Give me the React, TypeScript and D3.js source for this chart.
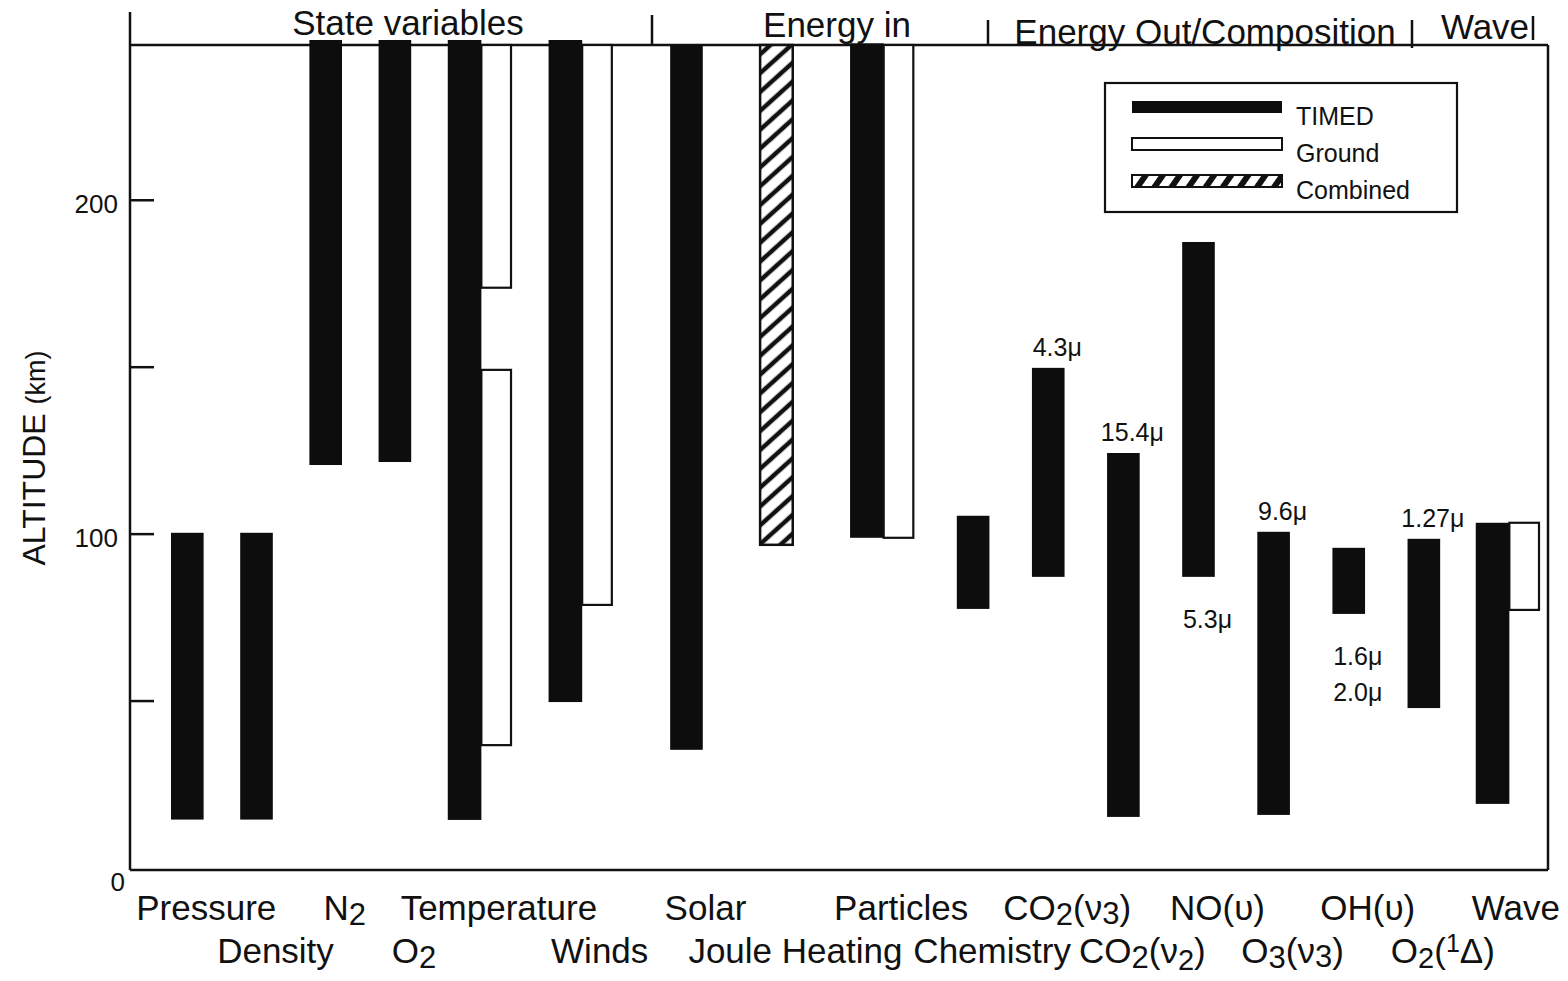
import React from "react";
import * as d3 from "d3";

// ---------------- DATA ----------------
const categories = [
  "Pressure", "Density", "N2", "O2", "Temperature", "Winds",
  "Solar", "Joule Heating", "Particles",
  "Chemistry", "CO2(v3)", "CO2(v2)", "NO(v)", "O3(v3)", "OH(v)", "O2(1D)",
  "Wave",
];

const sections = ["State variables", "Energy in", "Energy Out/Composition", "Wave"];
// which section each category belongs to (index into sections)
const categorySection = [0, 0, 0, 0, 0, 0, 1, 1, 1, 2, 2, 2, 2, 2, 2, 2, 3];

// altitude ranges in km: [category, low, high]
const timedBars: [string, number, number][] = [
  ["Pressure", 14.5, 100.4],
  ["Density", 14.5, 100.4],
  ["N2", 120.7, 248],
  ["O2", 121.6, 248],
  ["Temperature", 14.4, 248],
  ["Winds", 49.7, 248],
  ["Solar", 35.4, 246.5],
  ["Particles", 98.9, 247],
  ["Chemistry", 77.6, 105.5],
  ["CO2(v3)", 87.2, 149.8],
  ["CO2(v2)", 15.3, 124.3],
  ["NO(v)", 87.2, 187.5],
  ["O3(v3)", 15.9, 100.7],
  ["OH(v)", 76.1, 95.9],
  ["O2(1D)", 47.9, 98.6],
  ["Wave", 19.2, 103.4],
];
const groundBars: [string, number, number][] = [
  ["Temperature", 173.8, 246.5],
  ["Temperature", 36.8, 149.2],
  ["Winds", 78.8, 246.5],
  ["Particles", 98.9, 246.5],
  ["Wave", 77.3, 103.4],
];
const combinedBars: [string, number, number][] = [
  ["Joule Heating", 96.8, 246.5],
];

// wavelength annotations: [category, lines, placement]
const wavelengthLabels: [string, string[], "above" | "below"][] = [
  ["CO2(v3)", ["4.3μ"], "above"],
  ["CO2(v2)", ["15.4μ"], "above"],
  ["NO(v)", ["5.3μ"], "below"],
  ["O3(v3)", ["9.6μ"], "above"],
  ["OH(v)", ["1.6μ", "2.0μ"], "below"],
  ["O2(1D)", ["1.27μ"], "above"],
];

const yTicks = [50, 100, 150, 200];
const yTickLabels = [0, 100, 200];
const legendItems = ["TIMED", "Ground", "Combined"];

// rich labels for categories: [text, shift(px down), size]
type Part = [string, number?, number?];
const labelParts: Record<string, Part[]> = {
  "Pressure": [["Pressure"]],
  "Density": [["Density"]],
  "N2": [["N"], ["2", 5, 31]],
  "O2": [["O"], ["2", 5, 31]],
  "Temperature": [["Temperature"]],
  "Winds": [["Winds"]],
  "Solar": [["Solar"]],
  "Joule Heating": [["Joule Heating"]],
  "Particles": [["Particles"]],
  "Chemistry": [["Chemistry"]],
  "CO2(v3)": [["CO"], ["2", 5, 31], ["(ν"], ["3", 4, 31], [")"]],
  "CO2(v2)": [["CO"], ["2", 5, 31], ["(ν"], ["2", 7, 29], [")"]],
  "NO(v)": [["NO(υ)"]],
  "O3(v3)": [["O"], ["3", 5, 31], ["(ν"], ["3", 4, 31], [")"]],
  "OH(v)": [["OH(υ)"]],
  "O2(1D)": [["O"], ["2", 5, 29], ["("], ["1", -11, 25], ["Δ)"]],
  "Wave": [["Wave"]],
};

// ---------------- LAYOUT ----------------
const W = 1568;
const H = 981;
const FONT = "'Liberation Sans', Arial, Helvetica, sans-serif";
const plot = { left: 130, right: 1548, top: 45, bottom: 868 };
const sectionGap = [37, 58, 43, 36]; // layout units between bars per section
const singleW = 33;
const pairTimedW = 34;
const pairGroundW = 31;

export default function App() {
  const slotsOf = (c: string) => {
    const s: string[] = [];
    if (timedBars.some((b) => b[0] === c)) s.push("timed");
    if (combinedBars.some((b) => b[0] === c)) s.push("combined");
    if (groundBars.some((b) => b[0] === c)) s.push("ground");
    return s;
  };
  const starts: Record<string, number> = {};
  const widths: Record<string, number> = {};
  const slotList: Record<string, string[]> = {};
  let pos = 0;
  categories.forEach((c, i) => {
    slotList[c] = slotsOf(c);
    if (i > 0) pos += sectionGap[categorySection[i]];
    starts[c] = pos;
    widths[c] = slotList[c].length === 1 ? singleW : pairTimedW + pairGroundW;
    pos += widths[c];
  });
  const x = d3.scaleLinear().domain([0, pos]).range([171, 1540]);
  const y = d3.scaleLinear().domain([0, 246.5]).range([plot.bottom, plot.top]);

  const barRect = (c: string, kind: string) => {
    const slots = slotList[c];
    const s = starts[c];
    if (slots.length === 1) return { x0: x(s), x1: x(s + singleW) };
    if (slots.indexOf(kind) === 0) return { x0: x(s), x1: x(s + pairTimedW) };
    return { x0: x(s + pairTimedW), x1: x(s + pairTimedW + pairGroundW) };
  };
  const groupCenter = (c: string) => x(starts[c] + widths[c] / 2);
  const timedCenter = (c: string) => {
    const r = barRect(c, slotList[c][0]);
    return (r.x0 + r.x1) / 2;
  };

  const renderParts = (parts: Part[]) => {
    let prev = 0;
    return parts.map((p, i) => {
      const shift = p[1] ?? 0;
      const dy = shift - prev;
      prev = shift;
      return (
        <tspan key={i} dy={dy} fontSize={p[2] ?? 35}>
          {p[0]}
        </tspan>
      );
    });
  };

  const stroke = "#111";

  return (
    <svg
      width={W}
      height={H}
      viewBox={`0 0 ${W} ${H}`}
      style={{ position: "absolute", left: 0, top: 0, background: "#fff", display: "block" }}
      fontFamily={FONT}
    >
      <defs>
        <pattern id="hatch" patternUnits="userSpaceOnUse" width={14} height={14} patternTransform="rotate(48)">
          <rect width={14} height={14} fill="#fff" />
          <line x1={3} y1={0} x2={3} y2={14} stroke="#111" strokeWidth={4.5} />
        </pattern>
        <pattern id="hatchLegend" patternUnits="userSpaceOnUse" width={14} height={14} patternTransform="rotate(35)">
          <rect width={14} height={14} fill="#fff" />
          <line x1={3} y1={0} x2={3} y2={14} stroke="#111" strokeWidth={6} />
        </pattern>
      </defs>
      <rect width={W} height={H} fill="#fff" />

      {/* frame */}
      <line x1={plot.left} y1={12} x2={plot.left} y2={870} stroke={stroke} strokeWidth={2.5} />
      <line x1={plot.left} y1={plot.top} x2={plot.right} y2={plot.top} stroke={stroke} strokeWidth={2.5} />
      <line x1={plot.right} y1={plot.top} x2={plot.right} y2={870} stroke={stroke} strokeWidth={2.5} />
      <line x1={plot.left} y1={870} x2={plot.right} y2={870} stroke={stroke} strokeWidth={2.5} />

      {/* section dividers */}
      <line x1={652} y1={15} x2={652} y2={45} stroke={stroke} strokeWidth={2.5} />
      <line x1={988} y1={20} x2={988} y2={45} stroke={stroke} strokeWidth={2.5} />
      <line x1={1412} y1={20} x2={1412} y2={48} stroke={stroke} strokeWidth={2.5} />
      <line x1={1533} y1={16} x2={1533} y2={40} stroke={stroke} strokeWidth={2.5} />

      {/* section titles */}
      <text x={408} y={35} fontSize={35} textAnchor="middle" fill="#111">{sections[0]}</text>
      <text x={837} y={37} fontSize={35} textAnchor="middle" fill="#111">{sections[1]}</text>
      <text x={1205} y={44} fontSize={35} textAnchor="middle" fill="#111">{sections[2]}</text>
      <text x={1485} y={39} fontSize={35} textAnchor="middle" fill="#111">{sections[3]}</text>

      {/* y ticks */}
      {yTicks.map((t) => (
        <line key={t} x1={plot.left} x2={plot.left + 24} y1={y(t)} y2={y(t)} stroke={stroke} strokeWidth={2.5} />
      ))}
      {yTickLabels.map((t) => (
        <text key={t} x={t === 0 ? 125 : 118} y={y(t) + (t === 0 ? 23 : 13)} fontSize={26} textAnchor="end" fill="#111">
          {t}
        </text>
      ))}
      <text transform="translate(45,458) rotate(-90)" textAnchor="middle" fill="#111">
        <tspan fontSize={32}>ALTITUDE </tspan>
        <tspan fontSize={27}>(km)</tspan>
      </text>

      {/* bars */}
      {timedBars.map(([c, lo, hi], i) => {
        const r = barRect(c, "timed");
        return <rect key={"t" + i} x={r.x0} y={y(hi)} width={r.x1 - r.x0} height={y(lo) - y(hi)} fill="#0d0d0d" />;
      })}
      {groundBars.map(([c, lo, hi], i) => {
        const r = barRect(c, "ground");
        return (
          <rect key={"g" + i} x={r.x0} y={y(hi)} width={r.x1 - r.x0 - 1} height={y(lo) - y(hi)}
            fill="#fff" stroke={stroke} strokeWidth={2.2} />
        );
      })}
      {combinedBars.map(([c, lo, hi], i) => {
        const r = barRect(c, "combined");
        return (
          <rect key={"c" + i} x={r.x0} y={y(hi)} width={r.x1 - r.x0} height={y(lo) - y(hi)}
            fill="url(#hatch)" stroke={stroke} strokeWidth={2.5} />
        );
      })}

      {/* wavelength labels */}
      {wavelengthLabels.map(([c, lines, pos]) => {
        const bar = timedBars.find((b) => b[0] === c)!;
        const cx = timedCenter(c) + 9;
        return lines.map((t, j) => {
          const yy = pos === "above" ? y(bar[2]) - 12 : y(bar[1]) + 51 + j * 36;
          return (
            <text key={c + j} x={cx} y={yy} fontSize={25} textAnchor="middle" fill="#111">{t}</text>
          );
        });
      })}

      {/* category labels */}
      {categories.map((c, i) => (
        <text key={c} x={groupCenter(c) + (i === categories.length - 1 ? 8 : 19)} y={i % 2 === 0 ? 920 : 963}
          textAnchor="middle" fill="#111" fontSize={35}>
          {renderParts(labelParts[c])}
        </text>
      ))}

      {/* legend */}
      <g>
        <rect x={1105} y={83} width={352} height={129} fill="#fff" stroke={stroke} strokeWidth={2.2} />
        {legendItems.map((l, i) => {
          const yy = 101 + i * 37;
          const fill = i === 0 ? "#0d0d0d" : i === 1 ? "#fff" : "url(#hatchLegend)";
          return (
            <g key={l}>
              <rect x={1132} y={yy} width={150} height={12} fill={fill} stroke={stroke} strokeWidth={i === 0 ? 0 : 2} />
              <text x={1296} y={yy + 24} fontSize={25} fill="#111">{l}</text>
            </g>
          );
        })}
      </g>
    </svg>
  );
}
